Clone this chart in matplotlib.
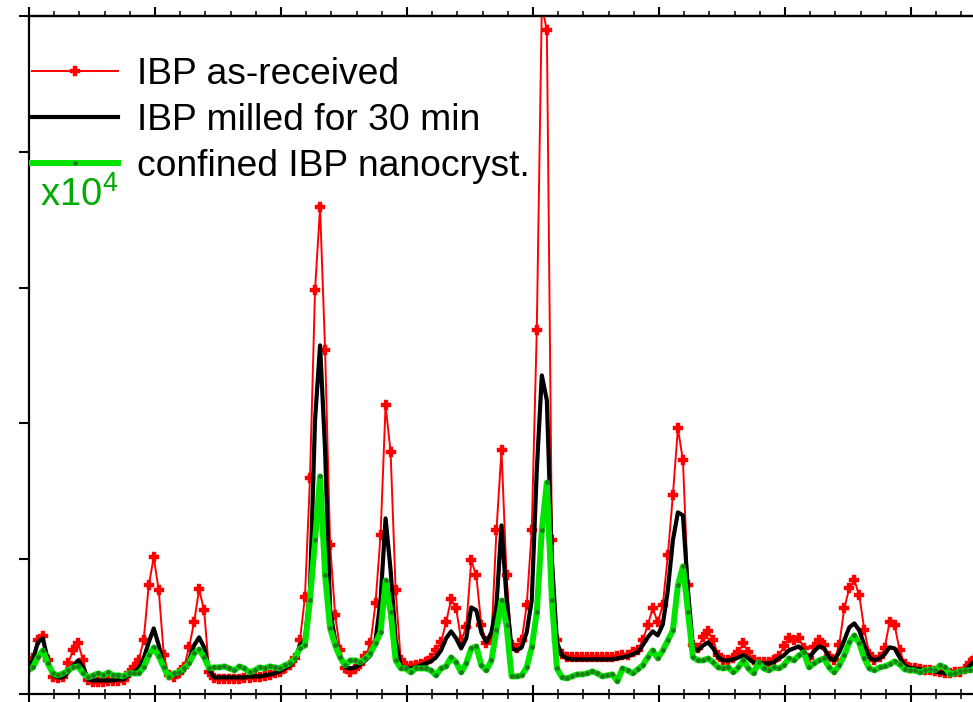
import matplotlib
matplotlib.use("Agg")
import matplotlib.pyplot as plt
import numpy as np
from matplotlib.ticker import FixedLocator, MultipleLocator

# x grid of the scans (deg), one point every 0.2
TWO_THETA_START = 9.95
TWO_THETA_STEP = 0.2

# Intensities (a.u.).
ibp_received = [
    25, 36, 54, 58, 34, 17, 16, 17, 31, 44,
    51, 34, 14, 12, 12, 12, 13, 13, 13, 14,
    21, 27, 34, 54, 109, 137, 104, 39, 19, 17,
    21, 27, 47, 72, 105, 84, 22, 16, 15, 15,
    15, 15, 15, 16, 16, 17, 17, 18, 19, 21,
    22, 26, 29, 36, 54, 97, 216, 404, 487, 344,
    149, 79, 44, 26, 22, 25, 30, 38, 51, 91,
    159, 289, 242, 104, 34, 28, 28, 29, 30, 32,
    36, 44, 52, 72, 95, 86, 54, 67, 134, 119,
    69, 51, 56, 164, 244, 119, 49, 46, 54, 89,
    164, 364, 689, 664, 154, 54, 40, 37, 37, 37,
    37, 37, 37, 37, 37, 37, 37, 38, 39, 39,
    42, 44, 54, 69, 86, 72, 89, 139, 199, 266,
    234, 109, 49, 46, 57, 63, 54, 39, 34, 34,
    36, 42, 51, 42, 34, 32, 32, 32, 34, 38,
    48, 56, 54, 56, 46, 36, 47, 54, 49, 38,
    34, 49, 86, 106, 114, 99, 64, 40, 34, 37,
    46, 72, 69, 44, 30, 26, 26, 25, 24, 24,
    23, 22, 21, 21, 22, 22, 25, 31, 36,
]
ibp_milled = [
    24, 34, 52, 56, 34, 19, 17, 17, 22, 29,
    34, 27, 15, 14, 14, 14, 14, 14, 15, 15,
    19, 22, 26, 36, 52, 66, 49, 27, 19, 19,
    21, 24, 34, 49, 57, 47, 24, 17, 17, 17,
    17, 17, 17, 17, 18, 18, 18, 19, 20, 21,
    23, 26, 29, 34, 49, 54, 104, 274, 349, 244,
    84, 54, 36, 27, 26, 27, 30, 34, 39, 54,
    94, 176, 124, 54, 28, 26, 26, 27, 29, 31,
    33, 37, 44, 56, 63, 56, 46, 56, 87, 84,
    62, 52, 62, 89, 169, 96, 46, 44, 47, 62,
    94, 224, 319, 294, 134, 52, 39, 36, 35, 35,
    35, 35, 35, 35, 35, 35, 35, 36, 37, 38,
    40, 42, 49, 57, 63, 59, 70, 104, 154, 182,
    179, 104, 46, 44, 49, 52, 46, 37, 34, 34,
    35, 37, 39, 36, 32, 31, 31, 31, 32, 36,
    39, 44, 46, 48, 43, 36, 43, 48, 46, 37,
    34, 42, 54, 67, 71, 64, 49, 37, 34, 36,
    40, 47, 46, 37, 29, 26, 26, 25, 24, 24,
    23, 22, 21, 21, 22, 22, 24, 29, 34,
]
# confined sample, already multiplied by 1e4
ibp_confined = [
    24, 27, 37, 44, 31, 21, 19, 21, 24, 27,
    28, 21, 17, 19, 21, 19, 22, 19, 19, 18,
    21, 21, 21, 27, 39, 47, 38, 27, 17, 21,
    22, 26, 31, 41, 45, 37, 26, 27, 27, 28,
    26, 24, 28, 26, 22, 24, 27, 26, 28, 27,
    26, 29, 31, 36, 46, 49, 94, 154, 218, 119,
    66, 49, 37, 29, 34, 34, 32, 36, 41, 51,
    62, 114, 82, 34, 26, 26, 22, 26, 26, 26,
    24, 19, 26, 28, 37, 32, 22, 31, 46, 48,
    29, 24, 34, 64, 94, 69, 18, 18, 19, 27,
    47, 82, 164, 212, 94, 26, 17, 16, 18, 20,
    20, 21, 23, 21, 18, 19, 20, 13, 26, 24,
    21, 25, 29, 37, 44, 36, 44, 54, 64, 109,
    128, 82, 37, 34, 34, 36, 32, 27, 26, 27,
    22, 27, 34, 26, 21, 32, 26, 24, 27, 26,
    29, 36, 34, 39, 42, 27, 31, 34, 36, 27,
    22, 29, 39, 52, 59, 51, 36, 26, 24, 27,
    28, 30, 33, 30, 25, 24, 24, 22, 24, 25,
    24, 29, 27, 20, 21, 23, 24, 24, 26,
]

labels = ["IBP as-received", "IBP milled for 30 min", "confined IBP nanocryst."]
X_LIM = (10, 50)
Y_LIM = (0, 678)
Y_TICKS = [0, 135.6, 271.2, 406.8, 542.4, 678]


def main() -> None:
    plt.rcParams["font.family"] = ["Liberation Sans", "DejaVu Sans"]
    plt.rcParams["mathtext.fontset"] = "custom"
    plt.rcParams["mathtext.rm"] = "Liberation Sans"

    two_theta = TWO_THETA_START + TWO_THETA_STEP * np.arange(len(ibp_received))

    fig = plt.figure(figsize=(9.73, 7.02), dpi=100)
    # The original is a crop: the frame runs past the right and bottom border.
    ax = fig.add_axes([29 / 973, 7.6 / 702, 1008 / 973, 678 / 702])

    ax.plot(two_theta, ibp_received, color="#ff0000", lw=1.4, marker="P",
            ms=6.5, mew=0.3, label=labels[0])
    ax.plot(two_theta, ibp_milled, color="black", lw=3.0, label=labels[1])
    ax.plot(two_theta, ibp_confined, color="#00e400", lw=4.3, marker="o",
            ms=2.4, mfc="#1e7a1e", mec="#1e7a1e", label=labels[2])

    ax.set_xlim(*X_LIM)
    ax.set_ylim(*Y_LIM)
    ax.xaxis.set_major_locator(MultipleLocator(5))
    ax.xaxis.set_minor_locator(MultipleLocator(1))
    ax.yaxis.set_major_locator(FixedLocator(Y_TICKS))
    ax.tick_params(axis="x", which="major", direction="inout", length=13,
                   width=1.5, labelbottom=False)
    ax.tick_params(axis="x", which="minor", direction="inout", length=7.5,
                   width=1.1)
    ax.tick_params(axis="y", which="major", direction="out", length=7.5,
                   width=1.5, labelleft=False)
    for side in ["left", "bottom", "top"]:
        ax.spines[side].set_linewidth(1.6)
    ax.spines["right"].set_visible(False)

    # top axis with outward ticks
    top = ax.secondary_xaxis("top")
    top.xaxis.set_major_locator(MultipleLocator(5))
    top.xaxis.set_minor_locator(MultipleLocator(1))
    top.tick_params(which="major", direction="out", length=6.5, width=1.5,
                    labeltop=False)
    top.tick_params(which="minor", direction="out", length=3.6, width=1.1)
    top.spines["top"].set_linewidth(1.6)

    ax.legend(loc="upper left", bbox_to_anchor=(32 / 973, 1 - 57 / 702),
              bbox_transform=fig.transFigure, frameon=False, fontsize=26.8,
              handlelength=2.3, handletextpad=0.53, labelspacing=0.29,
              borderpad=0, borderaxespad=0)
    fig.text(40 / 973, 1 - 206 / 702, r"x10$^4$", color="#00aa00",
             fontsize=27.5, va="baseline")

    fig.savefig("out.png", dpi=100)


if __name__ == "__main__":
    main()
